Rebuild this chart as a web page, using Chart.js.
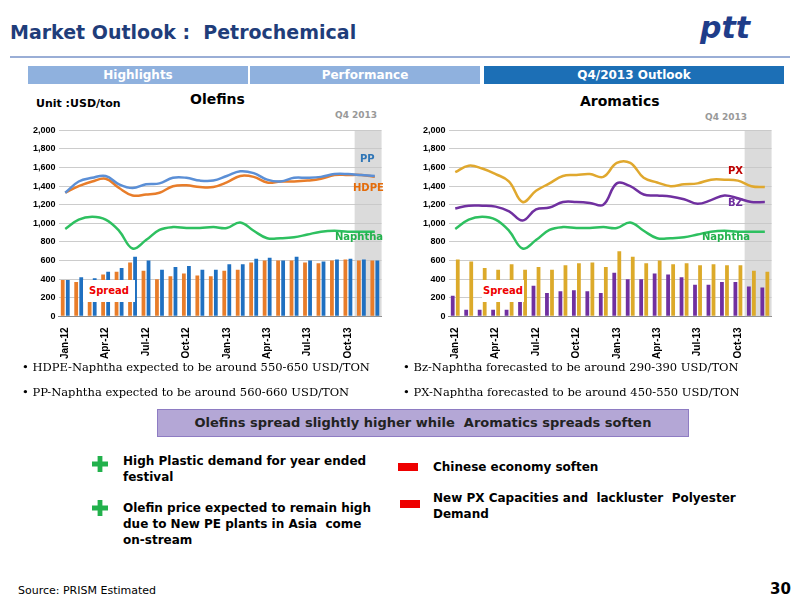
<!DOCTYPE html>
<html><head><meta charset="utf-8">
<script src="https://cdn.jsdelivr.net/npm/chart.js@4"></script>
<style>
body{margin:0;width:800px;height:600px;background:#fff;font-family:"DejaVu Sans",sans-serif;position:relative;overflow:hidden}
.a{position:absolute}
</style></head><body>
<div class="a" style="left:10px;top:21px;font-size:19px;font-weight:bold;color:#1f3d7a">Market Outlook :&nbsp; Petrochemical</div>
<div class="a" style="left:700px;top:10px;font-size:30px;font-weight:bold;font-style:italic;color:#1f3d8a">ptt</div>
<div class="a" style="left:10px;top:56px;width:780px;height:2px;background:#9aaed6"></div>
<div class="a" style="left:28px;top:66px;width:220px;height:18px;background:#8fb1de;color:#fff;font-size:12px;font-weight:bold;text-align:center;line-height:18px">Highlights</div>
<div class="a" style="left:250px;top:66px;width:230px;height:18px;background:#8fb1de;color:#fff;font-size:12px;font-weight:bold;text-align:center;line-height:18px">Performance</div>
<div class="a" style="left:484px;top:66px;width:300px;height:18px;background:#1c6fb6;color:#fff;font-size:12px;font-weight:bold;text-align:center;line-height:18px">Q4/2013 Outlook</div>
<div class="a" style="left:36px;top:97px;font-size:11px;font-weight:bold">Unit :USD/ton</div>
<div class="a" style="left:190px;top:91px;font-size:14px;font-weight:bold">Olefins</div>
<div class="a" style="left:580px;top:93px;font-size:14px;font-weight:bold">Aromatics</div>
<div class="a" style="left:335px;top:110px;font-size:9px;font-weight:bold;color:#999">Q4 2013</div>
<div class="a" style="left:705px;top:112px;font-size:9px;font-weight:bold;color:#999">Q4 2013</div>
<div class="a" style="left:20px;top:122px;width:370px;height:240px"><canvas id="c1"></canvas></div>
<div class="a" style="left:410px;top:122px;width:370px;height:240px"><canvas id="c2"></canvas></div>
<div class="a" style="left:360px;top:153px;font-size:10px;font-weight:bold;color:#2e75b6">PP</div>
<div class="a" style="left:353px;top:182px;font-size:10px;font-weight:bold;color:#e46c0a">HDPE</div>
<div class="a" style="left:335px;top:231px;font-size:10px;font-weight:bold;color:#22b14c">Naphtha</div>
<div class="a" style="left:83px;top:280px;width:52px;height:22px;background:#fff;color:#e00;font-size:10px;font-weight:bold;text-align:center;line-height:22px">Spread</div>
<div class="a" style="left:728px;top:165px;font-size:10px;font-weight:bold;color:#c00000">PX</div>
<div class="a" style="left:728px;top:197px;font-size:10px;font-weight:bold;color:#7030a0">BZ</div>
<div class="a" style="left:702px;top:231px;font-size:10px;font-weight:bold;color:#22b14c">Naphtha</div>
<div class="a" style="left:482px;top:280px;width:42px;height:22px;background:#fff;color:#e00;font-size:10px;font-weight:bold;text-align:center;line-height:22px">Spread</div>
<div class="a" style="left:22px;top:355px;font-size:11.5px;font-family:'DejaVu Serif',serif;line-height:25px">• HDPE-Naphtha expected to be around 550-650 USD/TON<br>• PP-Naphtha expected to be around 560-660 USD/TON</div>
<div class="a" style="left:403px;top:355px;font-size:11.5px;font-family:'DejaVu Serif',serif;line-height:25px">• Bz-Naphtha forecasted to be around 290-390 USD/TON<br>• PX-Naphtha forecasted to be around 450-550 USD/TON</div>
<div class="a" style="left:157px;top:409px;width:530px;height:26px;background:#b4a7d6;border:1px solid #8e7cc3;font-size:13px;font-weight:bold;color:#222;text-align:center;line-height:26px">Olefins spread slightly higher while&nbsp; Aromatics spreads soften</div>
<div class="a" style="left:92px;top:456px;width:16px;height:16px;background:#22b14c;clip-path:polygon(35% 0,65% 0,65% 35%,100% 35%,100% 65%,65% 65%,65% 100%,35% 100%,35% 65%,0 65%,0 35%,35% 35%)"></div>
<div class="a" style="left:92px;top:500px;width:16px;height:16px;background:#22b14c;clip-path:polygon(35% 0,65% 0,65% 35%,100% 35%,100% 65%,65% 65%,65% 100%,35% 100%,35% 65%,0 65%,0 35%,35% 35%)"></div>
<div class="a" style="left:123px;top:453px;width:260px;font-size:12px;font-weight:bold;line-height:16px">High Plastic demand for year ended festival</div>
<div class="a" style="left:123px;top:500px;width:260px;font-size:12px;font-weight:bold;line-height:16px">Olefin price expected to remain high due to New PE plants in Asia&nbsp; come on-stream</div>
<div class="a" style="left:398px;top:463px;width:20px;height:8px;background:#e00"></div>
<div class="a" style="left:400px;top:500px;width:20px;height:8px;background:#e00"></div>
<div class="a" style="left:433px;top:460px;font-size:12px;font-weight:bold">Chinese economy soften</div>
<div class="a" style="left:433px;top:490px;width:340px;font-size:12px;font-weight:bold;line-height:16px">New PX Capacities and&nbsp; lackluster&nbsp; Polyester Demand</div>
<div class="a" style="left:18px;top:584px;font-size:11px">Source: PRISM Estimated</div>
<div class="a" style="left:770px;top:580px;font-size:15px;font-weight:bold">30</div>
<script>
const months = ['Jan-12','Feb-12','Mar-12','Apr-12','May-12','Jun-12','Jul-12','Aug-12','Sep-12','Oct-12','Nov-12','Dec-12',
  'Jan-13','Feb-13','Mar-13','Apr-13','May-13','Jun-13','Jul-13','Aug-13','Sep-13','Oct-13','Nov-13','Dec-13'];
const hdpeSpread = [390,370,380,450,480,580,490,400,430,460,440,430,490,500,580,600,600,600,580,570,600,610,600,600];
const ppSpread = [390,420,410,480,520,640,600,500,530,540,500,500,560,560,620,630,600,640,600,590,610,620,610,600];
const pp = [1330,1450,1490,1510,1420,1380,1420,1430,1490,1490,1460,1460,1510,1560,1540,1470,1450,1490,1490,1500,1530,1530,1520,1510];
const hdpe = [1330,1400,1450,1480,1380,1300,1310,1330,1400,1410,1390,1390,1440,1510,1500,1440,1450,1450,1460,1480,1520,1520,1520,1500];
const naphtha = [940,1040,1070,1040,920,730,820,930,960,950,950,960,950,1010,920,840,840,850,880,910,920,910,910,910];
const bzSpread = [220,70,70,70,70,310,330,250,270,280,270,250,470,400,400,460,450,420,340,340,370,370,320,310];
const pxSpread = [610,590,520,500,560,500,530,500,550,570,580,530,700,640,570,600,560,570,550,560,550,550,490,480];
const px = [1550,1620,1590,1530,1450,1230,1350,1430,1510,1520,1530,1500,1650,1650,1490,1440,1400,1420,1430,1470,1470,1460,1400,1390];
const bz = [1160,1190,1190,1180,1130,1030,1150,1170,1230,1230,1220,1200,1430,1400,1310,1300,1290,1260,1210,1250,1300,1270,1230,1230];

const shade = {id:'shade', beforeDatasetsDraw(c){
  const x = c.scales.x, a = c.chartArea, g = c.ctx;
  const step = x.getPixelForValue(1) - x.getPixelForValue(0);
  const x0 = x.getPixelForValue(22) - step/2;
  g.save(); g.fillStyle='rgba(200,200,200,0.65)';
  g.fillRect(x0, a.top, a.right - x0, a.bottom - a.top);
  g.restore();
}};
function line(d,c){return {type:'line',data:d,borderColor:c,borderWidth:2.5,pointRadius:0,tension:0.4,fill:false};}
function bar(d,c){return {type:'bar',data:d,backgroundColor:c,categoryPercentage:0.75,barPercentage:0.75};}
function make(id, ds){
  new Chart(document.getElementById(id), {
    data:{labels:months, datasets:ds},
    plugins:[shade],
    options:{responsive:true,maintainAspectRatio:false,animation:false,
      plugins:{legend:{display:false},tooltip:{enabled:false}},
      layout:{padding:{right:8,left:10}},
      scales:{
        x:{grid:{display:false},border:{color:'#888'},
           ticks:{autoSkip:false,maxRotation:90,minRotation:90,color:'#000',font:{size:10,weight:'bold'},
             callback:(v,i)=> i%3===0 ? months[i] : ''}},
        y:{min:0,max:2000,ticks:{stepSize:200,color:'#000',font:{size:9,weight:'bold'}},
           grid:{color:'#ccc',drawTicks:false},border:{display:false}}
      }}
  });
}
make('c1',[line(pp,'#5b8fd6'),line(hdpe,'#e87d2a'),line(naphtha,'#2ec060'),bar(hdpeSpread,'#e87d2a'),bar(ppSpread,'#1f70c1')]);
make('c2',[line(px,'#e0a82e'),line(bz,'#7030a0'),line(naphtha,'#2ec060'),bar(bzSpread,'#7030a0'),bar(pxSpread,'#dcaa2a')]);
</script>
</body></html>
